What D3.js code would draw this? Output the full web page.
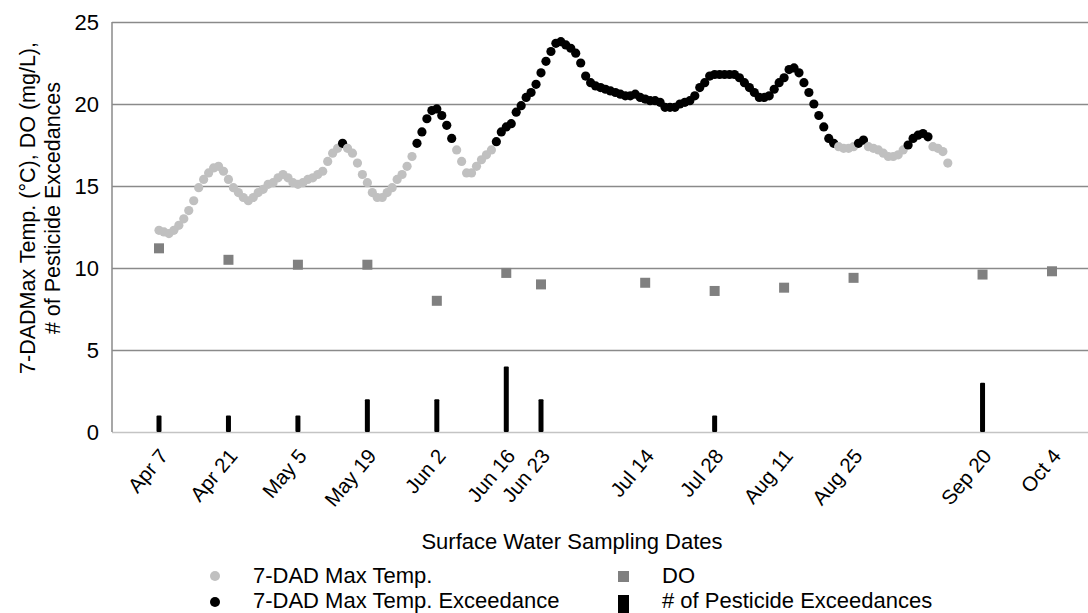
<!DOCTYPE html>
<html>
<head>
<meta charset="utf-8">
<script src="https://cdn.jsdelivr.net/npm/d3@7"></script>
<style>
body { margin: 0; background: #fff; }
svg text { font-family: "Liberation Sans", Arial, sans-serif; fill: #000; }
</style>
</head>
<body>
<svg id="chart" width="1088" height="613"></svg>
<script>
// sampling dates (x axis ticks)
var sampleDates = ["2014-04-07", "2014-04-21", "2014-05-05", "2014-05-19", "2014-06-02", "2014-06-16",
    "2014-06-23", "2014-07-14", "2014-07-28", "2014-08-11", "2014-08-25", "2014-09-20", "2014-10-04"];
var tickLabels = ["Apr 7", "Apr 21", "May 5", "May 19", "Jun 2", "Jun 16",
    "Jun 23", "Jul 14", "Jul 28", "Aug 11", "Aug 25", "Sep 20", "Oct 4"];

// DO (mg/L) on each sampling date
var doValues = [11.2, 10.5, 10.2, 10.2, 8.0, 9.7, 9.0, 9.1, 8.6, 8.8, 9.4, 9.6, 9.8];

// # of pesticide exceedances on each sampling date
var pesticideCounts = [1, 1, 1, 2, 2, 4, 2, 0, 1, 0, 0, 3, 0];

// 7-DAD max temp, one value per day starting Apr 7
var tempStart = "2014-04-07";
var maxTemp = [
    12.3, 12.2, 12.1, 12.3, 12.6, 13.0, 13.5, 14.1, 14.9, 15.4,
    15.8, 16.1, 16.2, 15.9, 15.4, 14.9, 14.6, 14.3, 14.1, 14.3,
    14.6, 14.8, 15.1, 15.2, 15.5, 15.7, 15.5, 15.2, 15.1, 15.2,
    15.4, 15.5, 15.7, 15.9, 16.5, 17.0, 17.3, 17.6, 17.3, 17.0,
    16.4, 15.7, 15.2, 14.6, 14.3, 14.3, 14.6, 14.9, 15.4, 15.7,
    16.2, 16.8, 17.6, 18.3, 19.1, 19.6, 19.7, 19.3, 18.7, 17.9,
    17.2, 16.5, 15.8, 15.8, 16.2, 16.6, 16.9, 17.2, 17.7, 18.3,
    18.6, 18.8, 19.5, 19.9, 20.4, 20.7, 21.2, 21.9, 22.6, 23.2,
    23.7, 23.8, 23.6, 23.4, 23.1, 22.5, 21.7, 21.3, 21.1, 21.0,
    20.9, 20.8, 20.7, 20.6, 20.5, 20.5, 20.6, 20.4, 20.3, 20.2,
    20.2, 20.1, 19.8, 19.8, 19.8, 20.0, 20.1, 20.2, 20.5, 21.0,
    21.3, 21.7, 21.8, 21.8, 21.8, 21.8, 21.8, 21.6, 21.3, 21.0,
    20.7, 20.4, 20.4, 20.5, 20.9, 21.3, 21.6, 22.1, 22.2, 21.9,
    21.3, 20.7, 20.0, 19.3, 18.6, 17.9, 17.6, 17.4, 17.3, 17.3,
    17.4, 17.6, 17.8, 17.4, 17.3, 17.2, 17.0, 16.8, 16.8, 16.9,
    17.2, 17.5, 17.9, 18.1, 18.2, 18.0, 17.4, 17.3, 17.1, 16.4
];
var tempThreshold = 17.5;

var yTicks = [0, 5, 10, 15, 20, 25];

var parseDate = d3.utcParse("%Y-%m-%d");
var dates = sampleDates.map(parseDate);
var day0 = parseDate(tempStart);

var plotLeft = 112, plotRight = 1088, plotTop = 22, plotBottom = 432;

var svg = d3.select("#chart");

var x = d3.scaleUtc()
    .domain([dates[0], dates[dates.length - 1]])
    .range([159, 1052]);

var y = d3.scaleLinear()
    .domain([0, 25])
    .range([plotBottom, plotTop]);

// gridlines + y tick labels
var yAxis = svg.append("g")
    .attr("transform", "translate(" + plotLeft + ",0)")
    .call(d3.axisLeft(y).tickValues(yTicks).tickSize(-(plotRight - plotLeft)).tickPadding(13));
yAxis.select(".domain").remove();
yAxis.selectAll(".tick line")
    .attr("stroke", function (d) { return d === 0 ? "#c4c4c4" : "#8a8a8a"; })
    .attr("stroke-width", 1.5);
yAxis.selectAll(".tick text")
    .style("font-size", "22px")
    .attr("fill", "#000");

// left axis line
svg.append("line")
    .attr("x1", plotLeft).attr("x2", plotLeft)
    .attr("y1", plotTop).attr("y2", plotBottom)
    .attr("stroke", "#8a8a8a")
    .attr("stroke-width", 1.5);

// pesticide bars
svg.selectAll(".bar")
    .data(pesticideCounts.map(function (c, i) { return {date: dates[i], count: c}; })
        .filter(function (d) { return d.count > 0; }))
    .enter().append("rect")
    .attr("class", "bar")
    .attr("x", function (d) { return x(d.date) - 2.5; })
    .attr("y", function (d) { return y(d.count); })
    .attr("width", 5)
    .attr("height", function (d) { return y(0) - y(d.count); })
    .attr("rx", 1)
    .attr("fill", "#000");

// DO squares
svg.selectAll(".do")
    .data(doValues.map(function (v, i) { return {date: dates[i], value: v}; }))
    .enter().append("rect")
    .attr("class", "do")
    .attr("x", function (d) { return x(d.date) - 5; })
    .attr("y", function (d) { return y(d.value) - 5; })
    .attr("width", 10)
    .attr("height", 10)
    .attr("fill", "#808080");

// temperature dots
var tempData = maxTemp.map(function (v, i) {
    return {date: d3.utcDay.offset(day0, i), value: v};
});
svg.selectAll(".temp")
    .data(tempData)
    .enter().append("circle")
    .attr("class", "temp")
    .attr("cx", function (d) { return x(d.date); })
    .attr("cy", function (d) { return y(d.value); })
    .attr("r", 4.6)
    .attr("fill", function (d) { return d.value >= tempThreshold ? "#000" : "#c0c0c0"; });

// x tick labels
var xAxis = svg.append("g")
    .attr("transform", "translate(0," + plotBottom + ")")
    .call(d3.axisBottom(x).tickValues(dates).tickSize(0)
        .tickFormat(function (d, i) { return tickLabels[i]; }));
xAxis.select(".domain").remove();
xAxis.selectAll(".tick text")
    .style("font-size", "20.5px")
    .attr("fill", "#000")
    .attr("text-anchor", "end")
    .attr("x", 0).attr("y", 0).attr("dy", "0.35em")
    .attr("transform", "translate(4,20) rotate(-50)");

// axis titles
svg.append("text")
    .attr("x", 572).attr("y", 541)
    .attr("dy", "0.35em")
    .attr("text-anchor", "middle")
    .style("font-size", "22px")
    .text("Surface Water Sampling Dates");

var yTitle = svg.append("g")
    .attr("transform", "translate(0,208) rotate(-90)");
yTitle.append("text")
    .attr("x", 0).attr("y", 27)
    .attr("dy", "0.35em")
    .attr("text-anchor", "middle")
    .style("font-size", "21.5px")
    .text("7-DADMax Temp. (°C), DO (mg/L),");
yTitle.append("text")
    .attr("x", 0).attr("y", 52)
    .attr("dy", "0.35em")
    .attr("text-anchor", "middle")
    .style("font-size", "21.5px")
    .text("# of Pesticide Excedances");

// legend
var legend = svg.append("g");
legend.append("circle").attr("cx", 215).attr("cy", 576).attr("r", 5).attr("fill", "#c0c0c0");
legend.append("circle").attr("cx", 215).attr("cy", 602).attr("r", 5).attr("fill", "#000");
legend.append("rect").attr("x", 618).attr("y", 571).attr("width", 11).attr("height", 11).attr("fill", "#808080");
legend.append("rect").attr("x", 618).attr("y", 595).attr("width", 11).attr("height", 18).attr("fill", "#000");

var legendItems = [
    {x: 253, y: 575, label: "7-DAD Max Temp."},
    {x: 253, y: 600, label: "7-DAD Max Temp. Exceedance"},
    {x: 662, y: 575, label: "DO"},
    {x: 662, y: 600, label: "# of Pesticide Exceedances"}
];
legend.selectAll(".legend-text")
    .data(legendItems)
    .enter().append("text")
    .attr("class", "legend-text")
    .attr("x", function (d) { return d.x; })
    .attr("y", function (d) { return d.y; })
    .attr("dy", "0.35em")
    .style("font-size", "22px")
    .text(function (d) { return d.label; });
</script>
</body>
</html>
